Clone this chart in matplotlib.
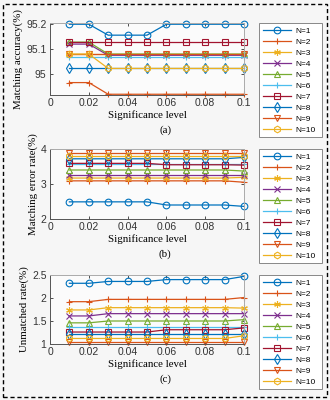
import matplotlib
matplotlib.use("Agg")
import matplotlib.pyplot as plt
from matplotlib.patches import Rectangle
import numpy as np

alpha = [0.01, 0.02, 0.03, 0.04, 0.05, 0.06, 0.07, 0.08, 0.09, 0.10]
labels = [f"N={n}" for n in range(1, 11)]

# (a) matching accuracy (%)
acc = [
    [95.2, 95.2, 95.156, 95.156, 95.156, 95.2, 95.2, 95.2, 95.2, 95.2],
    [94.965, 94.965, 94.918, 94.918, 94.918, 94.918, 94.918, 94.918, 94.918, 94.918],
    [95.08, 95.08, 95.08, 95.08, 95.08, 95.08, 95.08, 95.08, 95.08, 95.08],
    [95.12, 95.12, 95.075, 95.075, 95.075, 95.075, 95.075, 95.075, 95.075, 95.075],
    [95.128, 95.128, 95.08, 95.08, 95.08, 95.08, 95.08, 95.08, 95.08, 95.08],
    [95.07, 95.07, 95.07, 95.07, 95.07, 95.07, 95.07, 95.07, 95.07, 95.07],
    [95.128, 95.128, 95.128, 95.128, 95.128, 95.128, 95.128, 95.128, 95.128, 95.128],
    [95.022, 95.022, 95.022, 95.022, 95.022, 95.022, 95.022, 95.022, 95.022, 95.022],
    [95.082, 95.082, 95.082, 95.082, 95.082, 95.082, 95.082, 95.082, 95.082, 95.082],
    [95.08, 95.08, 95.022, 95.022, 95.022, 95.022, 95.022, 95.022, 95.022, 95.022],
]

# (b) matching error rate (%)
err = [
    [2.49, 2.49, 2.49, 2.49, 2.49, 2.40, 2.40, 2.40, 2.40, 2.36],
    [3.09, 3.09, 3.09, 3.09, 3.09, 3.09, 3.09, 3.09, 3.09, 3.05],
    [3.17, 3.17, 3.17, 3.17, 3.17, 3.17, 3.17, 3.17, 3.17, 3.19],
    [3.26, 3.26, 3.26, 3.26, 3.26, 3.26, 3.26, 3.26, 3.26, 3.26],
    [3.40, 3.40, 3.40, 3.40, 3.40, 3.40, 3.40, 3.40, 3.40, 3.37],
    [3.56, 3.56, 3.56, 3.56, 3.56, 3.56, 3.56, 3.56, 3.56, 3.56],
    [3.59, 3.59, 3.59, 3.59, 3.59, 3.55, 3.55, 3.55, 3.55, 3.54],
    [3.72, 3.72, 3.72, 3.72, 3.72, 3.72, 3.72, 3.72, 3.72, 3.76],
    [3.88, 3.88, 3.88, 3.88, 3.88, 3.88, 3.88, 3.88, 3.88, 3.88],
    [3.80, 3.80, 3.80, 3.80, 3.80, 3.80, 3.80, 3.80, 3.80, 3.80],
]

# (c) unmatched rate (%)
unm = [
    [2.32, 2.32, 2.36, 2.36, 2.36, 2.40, 2.40, 2.40, 2.40, 2.47],
    [1.92, 1.92, 1.97, 1.97, 1.97, 1.97, 1.97, 1.97, 1.97, 2.01],
    [1.74, 1.74, 1.79, 1.79, 1.79, 1.79, 1.79, 1.79, 1.79, 1.78],
    [1.61, 1.61, 1.66, 1.66, 1.66, 1.66, 1.66, 1.66, 1.66, 1.66],
    [1.46, 1.46, 1.50, 1.50, 1.50, 1.50, 1.50, 1.50, 1.50, 1.53],
    [1.36, 1.36, 1.36, 1.36, 1.36, 1.36, 1.36, 1.36, 1.36, 1.36],
    [1.26, 1.26, 1.26, 1.26, 1.26, 1.31, 1.31, 1.31, 1.31, 1.35],
    [1.22, 1.22, 1.22, 1.22, 1.22, 1.22, 1.22, 1.22, 1.22, 1.22],
    [1.05, 1.05, 1.05, 1.05, 1.05, 1.05, 1.05, 1.05, 1.05, 1.05],
    [1.12, 1.12, 1.12, 1.12, 1.12, 1.12, 1.12, 1.12, 1.12, 1.18],
]

colors = ["#0072BD", "#D95319", "#EDB120", "#7E2F8E", "#77AC30",
          "#4DBEEE", "#A2142F", "#0072BD", "#D95319", "#EDB120"]
markers = ["o", "+", (6, 2, 0), "x", "^", "+", "s", "d", "v", "h"]

panels = [
    (acc, "Matching accuracy(%)", "(a)", (94.915, 95.205), [95, 95.1, 95.2], ["95", "95.1", "95.2"], 23, 95),
    (err, "Matching error rate(%)", "(b)", (2, 4), [2, 3, 4], ["2", "3", "4"], 149, 219),
    (unm, "Unmatched rate(%)", "(c)", (1, 2.5), [1, 1.5, 2, 2.5], ["1", "1.5", "2", "2.5"], 275, 344),
]

W, H = 330, 400
fig = plt.figure(figsize=(W / 100, H / 100), dpi=100)
fig.patch.set_facecolor("#f6f6f6")
serif = "Liberation Serif"
sans = "Liberation Sans"

for data, ylab, tag, ylim, yt, ytl, top, bot in panels:
    ax = fig.add_axes([50 / W, 1 - bot / H, 194 / W, (bot - top) / H])
    ax.set_facecolor("#fbfbfb")
    handles = []
    for i in range(10):
        h, = ax.plot(alpha, data[i], color=colors[i], marker=markers[i], lw=0.9,
                     ms=4.8, mfc="none", mew=0.8, clip_on=False)
        handles.append(h)
    ax.set_xlim(0, 0.1)
    ax.set_ylim(*ylim)
    ax.set_xticks([0, 0.02, 0.04, 0.06, 0.08, 0.1])
    ax.set_xticklabels(["0", "0.02", "0.04", "0.06", "0.08", "0.1"], fontfamily=sans, fontsize=7.5)
    ax.set_yticks(yt)
    ax.set_yticklabels(ytl, fontfamily=sans, fontsize=7.5)
    ax.tick_params(direction="in", length=2.5, width=0.6, top=True, right=True,
                   colors="#333333", pad=2.5)
    for s in ["left", "bottom"]:
        ax.spines[s].set_color("#555555")
        ax.spines[s].set_linewidth(0.7)
    for s in ["top", "right"]:
        ax.spines[s].set_color("#aaaaaa")
        ax.spines[s].set_linewidth(0.7)
    ax.set_xlabel("Significance level", fontfamily=serif, fontsize=7.8, labelpad=1)
    ax.set_ylabel(ylab, fontfamily=serif, fontsize=7.8, labelpad=2)
    ax.text(0.5, 1 - (bot + 35) / H, tag, transform=fig.transFigure, ha="center",
            va="center", fontfamily=serif, fontsize=7.8)
    leg = fig.legend(handles, labels, loc="upper left",
                     bbox_to_anchor=(259 / W, 1 - top / H, 63 / W, 0), mode="expand",
                     prop={"family": sans, "size": 6}, handlelength=3.4,
                     labelspacing=0.38, borderpad=0.45, handletextpad=0.5,
                     borderaxespad=0, fancybox=False, framealpha=1)
    leg.get_frame().set_edgecolor("#888888")
    leg.get_frame().set_linewidth(0.7)

fig.patches.append(Rectangle((3 / W, 3 / H), 324 / W, 393 / H, transform=fig.transFigure,
                             fill=False, ec="black", lw=1, ls=(0, (3, 2))))
fig.savefig("out.png", dpi=100)
